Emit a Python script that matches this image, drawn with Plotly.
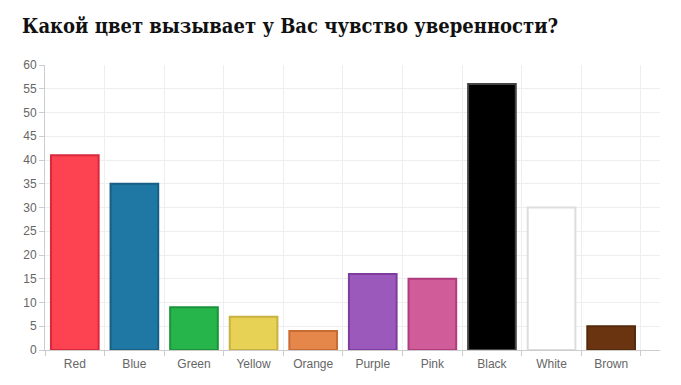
import plotly.graph_objects as go

categories = ["Red", "Blue", "Green", "Yellow", "Orange", "Purple", "Pink", "Black", "White", "Brown"]
values = [41, 35, 9, 7, 4, 16, 15, 56, 30, 5]
fill_colors = ["#fd4351", "#1f78a4", "#26b54a", "#e8d256", "#e5864b", "#9b59bb", "#d05c9a", "#000000", "#ffffff", "#6b3410"]
line_colors = ["#d9273c", "#175f86", "#1a933a", "#c8b13f", "#c96b34", "#7e3d9e", "#b03b7e", "#444444", "#dddddd", "#54290c"]
y_ticks = list(range(0, 61, 5))

fig = go.Figure(go.Bar(
    x=categories, y=values,
    marker=dict(color=fill_colors, line=dict(color=line_colors, width=2)),
    width=0.8,
))

fig.update_layout(
    width=681, height=385,
    margin=dict(l=37, r=29, t=57, b=43),
    paper_bgcolor="white", plot_bgcolor="white",
    showlegend=False,
    title=dict(text="<b>Какой цвет вызывает у Вас чувство уверенности?</b>",
               font=dict(family="DejaVu Serif Condensed", size=20, color="#111"),
               x=0.0206, xanchor="left", y=0.952, yanchor="middle"),
    font=dict(family="Liberation Sans, Arial", size=12, color="#666"),
)
fig.update_xaxes(
    type="category", range=[-0.5, 9.82], tickson="boundaries",
    showgrid=True, gridcolor="#eeeeee", gridwidth=1,
    showline=True, linecolor="#cccccc", linewidth=1,
    ticks="outside", ticklen=5, tickcolor="#cccccc",
    ticklabelstandoff=3,
    tickfont=dict(size=12, color="#666"),
)
fig.update_yaxes(
    range=[0, 60], tickvals=y_ticks,
    showgrid=True, gridcolor="#eeeeee", gridwidth=1,
    showline=True, linecolor="#cccccc", linewidth=1,
    ticks="outside", ticklen=5, tickcolor="#cccccc",
    zeroline=False, tickfont=dict(size=12, color="#666"),
)

fig.write_html("out.html")
